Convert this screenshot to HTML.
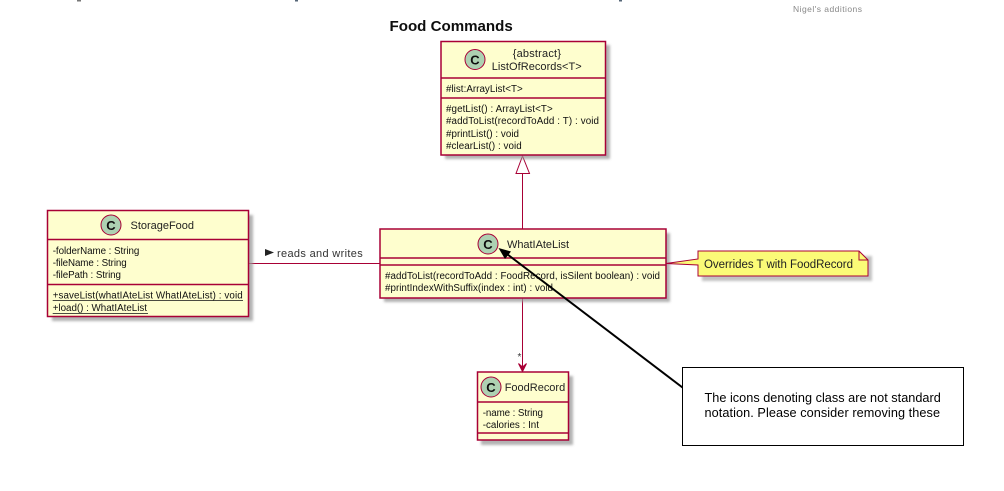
<!DOCTYPE html>
<html>
<head>
<meta charset="utf-8">
<style>
html,body{margin:0;padding:0;background:#fff;width:1004px;height:491px;overflow:hidden}
svg{display:block}
text{font-family:"Liberation Sans",sans-serif;fill:#111;font-size:10px}
.box{fill:#FEFECE;stroke:#A80036;stroke-width:1.5}
.shadow{fill:#999;opacity:.75;filter:url(#b)}
.sep{stroke:#A80036;stroke-width:1.5}
.circ{fill:#ADD1B2;stroke:#A80036;stroke-width:1}
.c{font-weight:bold;font-size:13px;text-anchor:middle}
.n{font-size:11px;fill:#222}
.m{font-size:9.800px}
</style>
</head>
<body>
<svg width="1004" height="491" viewBox="0 0 1004 491" xmlns="http://www.w3.org/2000/svg">
<defs>
<filter id="b" x="-10%" y="-10%" width="120%" height="120%"><feGaussianBlur stdDeviation="1.2"/></filter>
<filter id="s" x="0" y="0" width="100%" height="100%" filterUnits="userSpaceOnUse" primitiveUnits="userSpaceOnUse"><feGaussianBlur stdDeviation="0.3"/></filter>
</defs>
<rect width="1004" height="491" fill="#fff"/>

<g filter="url(#s)">
<rect x="77" y="0" width="4" height="1.5" fill="#777"/>
<rect x="295" y="0" width="3" height="1.5" fill="#567"/>
<rect x="619" y="0" width="3" height="1.5" fill="#567"/>
<text x="793" y="12" textLength="69" style="font-size:8.500px;fill:#888">Nigel's additions</text>

<text x="389.500" y="31" style="font-size:15.100px;font-weight:bold;fill:#111">Food Commands</text>

<!-- connectors -->
<path d="M522.500 173V229" stroke="#A80036" stroke-width="1" fill="none"/>
<path d="M522.500 156L516 173.500H529.500Z" fill="#fff" stroke="#A80036" stroke-width="1"/>
<path d="M249 263.500H380" stroke="#A80036" stroke-width="1" fill="none"/>
<path d="M522.500 298V368" stroke="#A80036" stroke-width="1" fill="none"/>
<path d="M518.500 363.500L522.500 371.500L526.500 363.500L522.500 367Z" stroke="#A80036" stroke-width="1" fill="#A80036"/>
<text x="517.500" y="360" style="font-size:10px;fill:#333">*</text>
<path d="M265 249L274 252.500L265 256Z" fill="#222"/>
<text x="277" y="257" textLength="85.700" style="font-size:11px;fill:#333">reads and writes</text>

<!-- ListOfRecords -->
<rect class="shadow" x="445" y="45" width="165" height="114"/>
<rect class="box" x="441" y="41.500" width="164.500" height="113.500"/>
<path class="sep" d="M441 78H605.500M441 98H605.500"/>
<circle class="circ" cx="475" cy="59.500" r="10"/>
<text class="c" x="475" y="64.500">C</text>
<text class="n" x="512.700" y="57" textLength="48.300">{abstract}</text>
<text class="n" x="491.700" y="70" textLength="90">ListOfRecords&lt;T&gt;</text>
<text class="m" x="446" y="92" textLength="76.700">#list:ArrayList&lt;T&gt;</text>
<text class="m" x="446" y="112" textLength="106.700">#getList() : ArrayList&lt;T&gt;</text>
<text class="m" x="446" y="124" textLength="153">#addToList(recordToAdd : T) : void</text>
<text class="m" x="446" y="137" textLength="73">#printList() : void</text>
<text class="m" x="446" y="149" textLength="75.700">#clearList() : void</text>

<!-- StorageFood -->
<rect class="shadow" x="52" y="215" width="201" height="106"/>
<rect class="box" x="47.500" y="210.500" width="201" height="106"/>
<path class="sep" d="M47.500 239.500H248.500M47.500 284.500H248.500"/>
<circle class="circ" cx="111" cy="225" r="10"/>
<text class="c" x="111" y="230">C</text>
<text class="n" x="130.500" y="229" textLength="63.500">StorageFood</text>
<text class="m" x="52.700" y="254" textLength="86.600">-folderName : String</text>
<text class="m" x="52.700" y="266" textLength="74">-fileName : String</text>
<text class="m" x="52.700" y="278" textLength="68.300">-filePath : String</text>
<text class="m" x="52.700" y="298.500" textLength="190">+saveList(whatIAteList WhatIAteList) : void</text>
<text class="m" x="52.700" y="311" textLength="94.300">+load() : WhatIAteList</text>
<path d="M52.700 300.500H243M52.700 313.500H148" stroke="#111" stroke-width=".8"/>

<!-- WhatIAteList -->
<rect class="shadow" x="384" y="233" width="286" height="69"/>
<rect class="box" x="380" y="229" width="286" height="69"/>
<path class="sep" d="M380 258H666M380 265H666"/>
<circle class="circ" cx="488" cy="244" r="10"/>
<text class="c" x="488" y="249">C</text>
<text class="n" x="507" y="248" textLength="62">WhatIAteList</text>
<text class="m" x="385" y="279" textLength="275">#addToList(recordToAdd : FoodRecord, isSilent boolean) : void</text>
<text class="m" x="385" y="291" textLength="168">#printIndexWithSuffix(index : int) : void</text>

<!-- FoodRecord -->
<rect class="shadow" x="481" y="376" width="92" height="69"/>
<rect class="box" x="477.500" y="372" width="91" height="68"/>
<path class="sep" d="M477.500 402H568.500M477.500 433H568.500"/>
<circle class="circ" cx="491" cy="387" r="10"/>
<text class="c" x="491" y="392">C</text>
<text class="n" x="504.700" y="391" textLength="60.500">FoodRecord</text>
<text class="m" x="482.700" y="416" textLength="60.300">-name : String</text>
<text class="m" x="482.700" y="428" textLength="56.300">-calories : Int</text>

<!-- Note -->
<path d="M702 256H872V281H702Z" fill="#999" opacity=".6" filter="url(#b)"/>
<path d="M666 263.500L698 259V251H859L868 260V276H698V265Z" fill="#FBFB77" stroke="#A80036" stroke-width="1"/>
<path d="M859 251V260H868" fill="none" stroke="#A80036" stroke-width="1"/>
<text x="704" y="268" textLength="149" style="font-size:11.500px;fill:#222">Overrides T with FoodRecord</text>

<!-- Comment arrow -->
<path d="M682.500 387.500L505 252.500" stroke="#000" stroke-width="2" fill="none"/>
<path d="M498.500 248L511 251.500L505 259Z" fill="#000"/>
</g>

<!-- Comment box -->
<rect x="682.500" y="367.500" width="281" height="78" fill="#fff" stroke="#000" stroke-width="1"/>
<text x="704.500" y="402" textLength="236.300" style="font-size:12.700px;fill:#000">The icons denoting class are not standard</text>
<text x="704.500" y="417" textLength="235.500" style="font-size:12.700px;fill:#000">notation. Please consider removing these</text>
</svg>
</body>
</html>
